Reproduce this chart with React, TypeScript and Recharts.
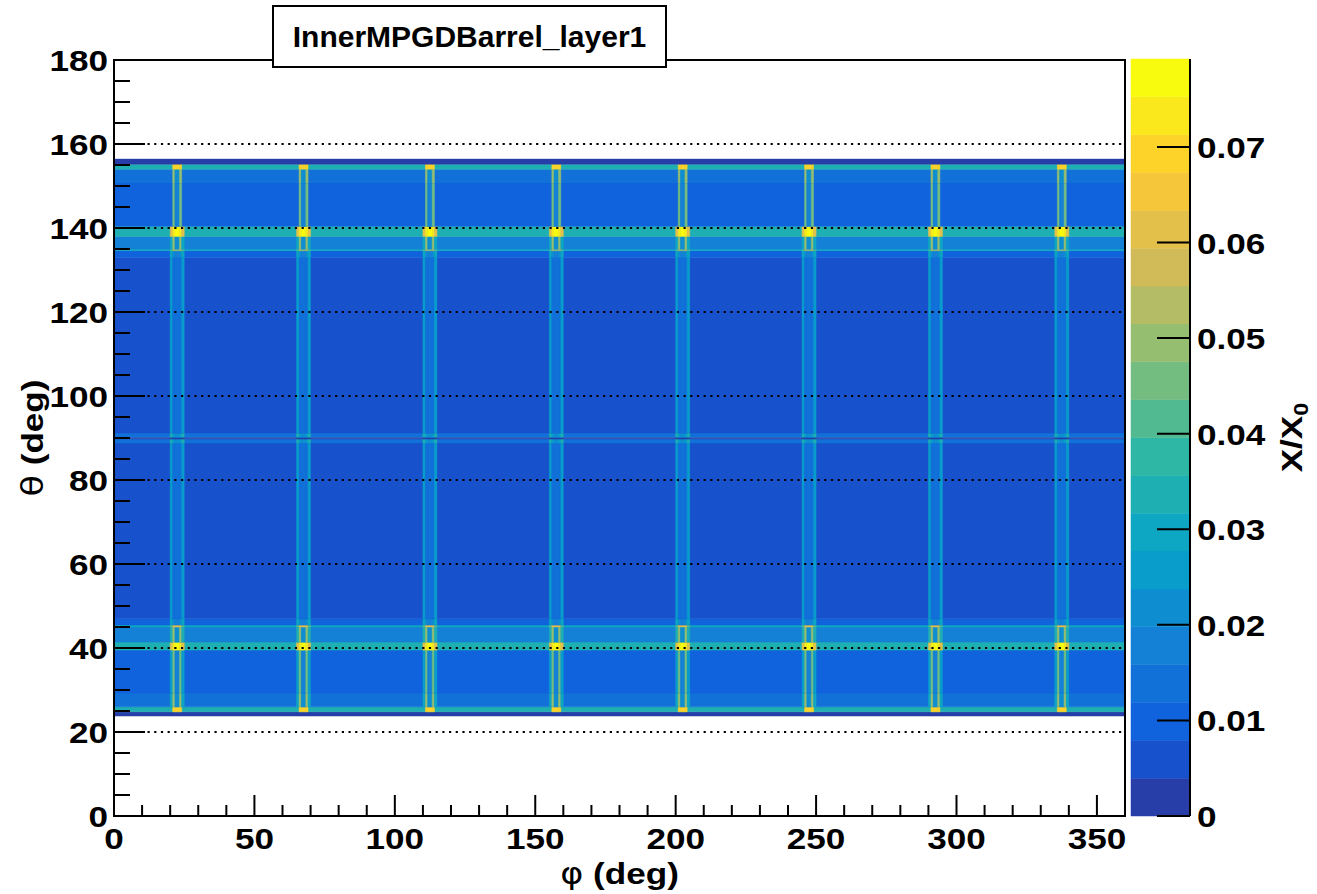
import React from 'react';
import { ComposedChart, XAxis, YAxis, ReferenceArea, ReferenceLine, Label, Scatter } from 'recharts';

const W = 1317;
const H = 894;
const FONT = '"Liberation Sans", Arial, Helvetica, sans-serif';
const STRETCH = 1.17; // ROOT text comes out a bit wide

// theta slices (deg): boundaries, then X/X0 of the full-phi band in each slice
const thetaEdges = [23.8, 24.8, 26.0, 29.3, 39.5, 41.4, 45.0, 45.5, 47.0, 88.8, 89.8, 90.2, 91.2, 133.0, 134.6, 135.0, 138.0, 140.4, 150.7, 154.0, 155.2, 156.4];
const bandValues = [0.002, 0.034, 0.014, 0.010, 0.034, 0.017, 0.030, 0.010, 0.006, 0.014, 0.002, 0.014, 0.006, 0.010, 0.030, 0.017, 0.034, 0.010, 0.014, 0.034, 0.002];
// support strips running along theta, one every 45 deg in phi
const stripOuterValues = [0.002, 0.034, 0.028, 0.026, 0.060, 0.032, 0.040, 0.028, 0.027, 0.034, 0.003, 0.034, 0.027, 0.028, 0.040, 0.030, 0.060, 0.010, 0.014, 0.034, 0.002];
const stripInnerValues = [0.002, 0.070, 0.048, 0.046, 0.074, 0.050, 0.060, 0.020, 0.014, 0.024, 0.003, 0.024, 0.014, 0.020, 0.055, 0.050, 0.074, 0.046, 0.048, 0.070, 0.002];
const stripMidValues = [0.002, 0.070, 0.020, 0.017, 0.078, 0.022, 0.060, 0.016, 0.013, 0.022, 0.003, 0.022, 0.013, 0.016, 0.050, 0.022, 0.078, 0.016, 0.020, 0.070, 0.002];
const stripCenters = [22.5, 67.5, 112.5, 157.5, 202.5, 247.5, 292.5, 337.5];
const stripHalfWidths = [0.8, 1.6, 2.5]; // mid | inner edge | outer edge

const phiTicks = [0, 10, 20, 30, 40, 50, 60, 70, 80, 90, 100, 110, 120, 130, 140, 150, 160, 170, 180, 190, 200, 210, 220, 230, 240, 250, 260, 270, 280, 290, 300, 310, 320, 330, 340, 350, 360];
const thetaTicks = [0, 5, 10, 15, 20, 25, 30, 35, 40, 45, 50, 55, 60, 65, 70, 75, 80, 85, 90, 95, 100, 105, 110, 115, 120, 125, 130, 135, 140, 145, 150, 155, 160, 165, 170, 175, 180];
const gridThetas = [20, 40, 60, 80, 100, 120, 140, 160];
const zTicks = [0, 0.01, 0.02, 0.03, 0.04, 0.05, 0.06, 0.07];
const zMax = 0.0792;
const nContours = 20;

// kBird palette stops
const BIRD_R = [0.2082, 0.0592, 0.0780, 0.0232, 0.1802, 0.5301, 0.8186, 0.9956, 0.9764];
const BIRD_G = [0.1664, 0.3599, 0.5041, 0.6419, 0.7178, 0.7492, 0.7328, 0.7862, 0.9832];
const BIRD_B = [0.5293, 0.8684, 0.8385, 0.7914, 0.6425, 0.4662, 0.3499, 0.1968, 0.0539];

const hex2 = (c: number) => Math.round(c * 255).toString(16).padStart(2, '0');
function birdColor(f: number) {
  const p = f * 8;
  const k = Math.min(7, Math.floor(p));
  const t = p - k;
  const mix = (a: number[]) => a[k] + t * (a[k + 1] - a[k]);
  return '#' + hex2(mix(BIRD_R)) + hex2(mix(BIRD_G)) + hex2(mix(BIRD_B));
}
const contourColors = Array.from({ length: nContours }, (_, i) =>
  birdColor(Math.floor((i + 0.99) * 255 / nContours) / 254));
const step = zMax / nContours;
const colorOf = (v: number) => contourColors[Math.min(nContours - 1, Math.floor(v / step))];

type Cell = { x1: number; x2: number; y1: number; y2: number; v: number };
const cells: Cell[] = [];
bandValues.forEach((bg, s) => {
  const y1 = thetaEdges[s];
  const y2 = thetaEdges[s + 1];
  cells.push({ x1: 0, x2: 360, y1, y2, v: bg });
  const [hm, hi, ho] = stripHalfWidths;
  stripCenters.forEach((c) => {
    const pieces: [number, number, number][] = [
      [-ho, -hi, stripOuterValues[s]],
      [-hi, -hm, stripInnerValues[s]],
      [-hm, hm, stripMidValues[s]],
      [hm, hi, stripInnerValues[s]],
      [hi, ho, stripOuterValues[s]],
    ];
    pieces.forEach(([a, b, v]) => {
      if (v !== bg) cells.push({ x1: c + a, x2: c + b, y1, y2, v });
    });
  });
});

// invisible anchor points so the charts have data to lay out
const anchors = stripCenters.map((c) => ({ x: c, y: 90 }));
const zAnchors = [{ x: 0.5, y: 0 }];
const NoShape = () => <g />;

const bold = { fontFamily: FONT, fontWeight: 'bold' as const, fontSize: 30, fill: '#000' };

const PhiTick = (props: any) => {
  const { x, y, payload } = props;
  const v = payload.value;
  const major = v % 50 === 0;
  return (
    <g>
      <line x1={x} y1={y} x2={x} y2={y - (major ? 21 : 11)} stroke="#000" strokeWidth={2} />
      {major && v < 360 && (
        <text transform={`translate(${x},${y + 33}) scale(${STRETCH},1)`} textAnchor="middle" {...bold}>{v}</text>
      )}
    </g>
  );
};

const ThetaTick = (props: any) => {
  const { x, y, payload } = props;
  const v = payload.value;
  const major = v % 20 === 0;
  return (
    <g>
      <line x1={x} y1={y} x2={x + (major ? 31 : 16)} y2={y} stroke="#000" strokeWidth={2} />
      {major && (
        <text transform={`translate(${x - 6},${y + 11}) scale(${STRETCH},1)`} textAnchor="end" {...bold}>{v}</text>
      )}
    </g>
  );
};

const ZTick = (props: any) => {
  const { x, y, payload } = props;
  const v = payload.value;
  return (
    <g>
      <line x1={x} y1={y} x2={x - 33} y2={y} stroke="#000" strokeWidth={2} />
      <text transform={`translate(${x + 7},${y + 11}) scale(${STRETCH},1)`} textAnchor="start" {...bold}>
        {v === 0 ? '0' : v.toFixed(2)}
      </text>
    </g>
  );
};

const PhiTitle = (props: any) => {
  const vb = props.viewBox || { x: 114, y: 816, width: 1011 };
  return (
    <text transform={`translate(${vb.x + vb.width / 2},${vb.y + 68}) scale(${STRETCH},1)`} textAnchor="middle" {...bold}>
      <tspan fontWeight="normal" fontFamily="DejaVu Sans">φ</tspan> (deg)
    </text>
  );
};

const ThetaTitle = (props: any) => {
  const vb = props.viewBox || { x: 0, y: 60, height: 756 };
  return (
    <text transform={`translate(${vb.x + 43},${vb.y + vb.height / 2}) rotate(-90) scale(${STRETCH},1)`} textAnchor="middle" {...bold}>
      <tspan fontWeight="normal" fontFamily="DejaVu Sans">θ</tspan> (deg)
    </text>
  );
};

const ZTitle = (props: any) => {
  const vb = props.viewBox || { x: 1190, y: 59, height: 757 };
  return (
    <text transform={`translate(${vb.x + 112},${vb.y + vb.height / 2}) rotate(-90) scale(${STRETCH},1)`} textAnchor="middle" {...bold}>
      X/X<tspan fontSize={20} dy={6}>0</tspan>
    </text>
  );
};

export default function App() {
  return (
    <div style={{ position: 'absolute', left: 0, top: 0, width: W, height: H, background: '#fff' }}>
      <div style={{ position: 'absolute', left: 0, top: 0 }}>
        <ComposedChart width={W} height={H} data={anchors} margin={{ top: 60, right: 192, bottom: 0, left: 0 }}>
          <XAxis type="number" dataKey="x" domain={[0, 360]} ticks={phiTicks} interval={0} height={78}
            allowDataOverflow axisLine={false} tickLine={false} tickSize={0} tickMargin={0} tick={<PhiTick />}>
            <Label content={<PhiTitle />} />
          </XAxis>
          <YAxis type="number" dataKey="y" domain={[0, 180]} ticks={thetaTicks} interval={0} width={114}
            allowDataOverflow axisLine={false} tickLine={false} tickSize={0} tickMargin={0} tick={<ThetaTick />}>
            <Label content={<ThetaTitle />} />
          </YAxis>
          {cells.map((c, i) => (
            <ReferenceArea key={`c${i}`} x1={c.x1} x2={c.x2} y1={c.y1} y2={c.y2}
              fill={colorOf(c.v)} fillOpacity={1} stroke={colorOf(c.v)} strokeWidth={0.5} />
          ))}
          {gridThetas.map((t) => (
            <ReferenceLine key={`g${t}`} y={t} stroke="#000" strokeWidth={2} strokeDasharray="2.2 4.5" />
          ))}
          <ReferenceArea x1={0} x2={360} y1={0} y2={180} fill="none" stroke="#000" strokeWidth={2} />
          <Scatter data={anchors} dataKey="y" shape={<NoShape />} isAnimationActive={false} />
        </ComposedChart>
      </div>
      <div style={{ position: 'absolute', left: 0, top: 0 }}>
        <ComposedChart width={W} height={H} data={zAnchors} margin={{ top: 59, right: 0, bottom: 78, left: 1131 }}>
          <XAxis type="number" dataKey="x" domain={[0, 1]} hide />
          <YAxis type="number" dataKey="y" orientation="right" domain={[0, zMax]} ticks={zTicks} interval={0} width={127}
            allowDataOverflow axisLine={{ stroke: '#000', strokeWidth: 2 }} tickLine={false} tickSize={0} tickMargin={0} tick={<ZTick />}>
            <Label content={<ZTitle />} />
          </YAxis>
          {contourColors.map((col, i) => (
            <ReferenceArea key={`z${i}`} x1={0} x2={1} y1={i * step} y2={(i + 1) * step}
              fill={col} fillOpacity={1} stroke={col} strokeWidth={0.5} />
          ))}
          <Scatter data={zAnchors} dataKey="y" shape={<NoShape />} isAnimationActive={false} />
        </ComposedChart>
      </div>
      <div style={{
        position: 'absolute', left: 272, top: 5, width: 395, height: 63, boxSizing: 'border-box',
        border: '2px solid #000', background: '#fff', display: 'flex', alignItems: 'center', justifyContent: 'center',
        fontFamily: FONT, fontWeight: 'bold', fontSize: 30,
      }}>
        InnerMPGDBarrel_layer1
      </div>
    </div>
  );
}
